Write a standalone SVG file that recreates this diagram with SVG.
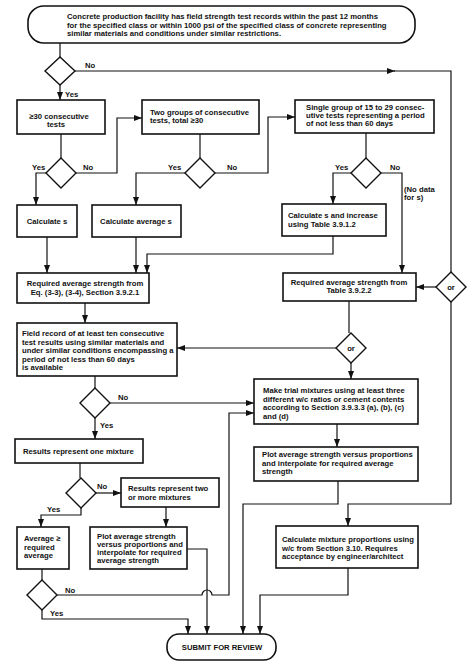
<svg xmlns="http://www.w3.org/2000/svg" width="474" height="666" viewBox="0 0 474 666">
<style>
.b{fill:#fff;stroke:#111;stroke-width:1.6}
.d{fill:#fff;stroke:#111;stroke-width:1.4}
.c{fill:none;stroke:#111;stroke-width:1.2}
text{font-family:"Liberation Sans",Arial,sans-serif;font-size:7.7px;font-weight:bold;fill:#111}
.m{text-anchor:middle}
</style>
<defs>
<marker id="a" markerWidth="8" markerHeight="6" refX="8" refY="3" orient="auto" markerUnits="userSpaceOnUse"><path d="M0,0 L8,3 L0,6 z" fill="#111"/></marker>
</defs>
<rect width="474" height="666" fill="#fff"/>
<g id="connectors">
<path class="c" d="M60,43 V57"/>
<path class="c" d="M75,71 H395" marker-end="url(#a)"/>
<path class="c" d="M394,71 H451 V272"/>
<path class="c" d="M60,85 V100" marker-end="url(#a)"/>
<path class="c" d="M61,134 V158"/>
<path class="c" d="M46,173 H36 V205" marker-end="url(#a)"/>
<path class="c" d="M76,173 H117 V118 H142" marker-end="url(#a)"/>
<path class="c" d="M200,134 V158"/>
<path class="c" d="M185,173 H136 V205" marker-end="url(#a)"/>
<path class="c" d="M215,173 H268 V117 H295" marker-end="url(#a)"/>
<path class="c" d="M366,133 V158"/>
<path class="c" d="M351,173 H333 V204" marker-end="url(#a)"/>
<path class="c" d="M381,173 H402 V273" marker-end="url(#a)"/>
<path class="c" d="M47,237 V273" marker-end="url(#a)"/>
<path class="c" d="M136,237 V273" marker-end="url(#a)"/>
<path class="c" d="M333,236 V254 H147 V273" marker-end="url(#a)"/>
<path class="c" d="M85,303 V323" marker-end="url(#a)"/>
<path class="c" d="M349,301 V333"/>
<path class="c" d="M336,348 H177" marker-end="url(#a)"/>
<path class="c" d="M351,363 V379" marker-end="url(#a)"/>
<path class="c" d="M436,287 H416" marker-end="url(#a)"/>
<path class="c" d="M451,302 V504 H348 V526" marker-end="url(#a)"/>
<path class="c" d="M95,376 V388"/>
<path class="c" d="M110,403 H254" marker-end="url(#a)"/>
<path class="c" d="M95,418 V439" marker-end="url(#a)"/>
<path class="c" d="M80,463 V478"/>
<path class="c" d="M96,493 H121" marker-end="url(#a)"/>
<path class="c" d="M81,508 V515 H41 V527" marker-end="url(#a)"/>
<path class="c" d="M166,507 V527" marker-end="url(#a)"/>
<path class="c" d="M337,424 V447" marker-end="url(#a)"/>
<path class="c" d="M338,481 V504 H243 V634" marker-end="url(#a)"/>
<path class="c" d="M348,568 V595 H260 V634" marker-end="url(#a)"/>
<path class="c" d="M42,569 V580"/>
<path class="c" d="M57,595 H202 A5,5 0 0 1 212,595 H229 V413 H254" marker-end="url(#a)"/>
<path class="c" d="M42,610 V619 H188 V634" marker-end="url(#a)"/>
<path class="c" d="M187,549 H207 V634" marker-end="url(#a)"/>
</g>
<g id="labels">
<text x="85" y="68">No</text>
<text x="65" y="97">Yes</text>
<text x="32" y="170">Yes</text>
<text x="83" y="170">No</text>
<text x="168" y="170">Yes</text>
<text x="227" y="170">No</text>
<text x="335" y="170">Yes</text>
<text x="390" y="170">No</text>
<text x="404" y="192">(No data</text>
<text x="404" y="200">for s)</text>
<text x="118" y="400">No</text>
<text x="100" y="428">Yes</text>
<text x="97" y="489">No</text>
<text x="47" y="512">Yes</text>
<text x="65" y="593">No</text>
<text x="50" y="616">Yes</text>
</g>
<g id="start">
<rect class="b" x="28" y="6" width="387" height="37" rx="16" ry="16"/>
<text x="67" y="19">Concrete production facility has field strength test records within the past 12 months</text>
<text x="67" y="27.5">for the specified class or within 1000 psi of the specified class of concrete representing</text>
<text x="67" y="36">similar materials and conditions under similar restrictions.</text>
</g>
<g id="dec1"><path class="d" d="M60,57 L75,71 L60,85 L45,71 z"/></g>
<g id="consec30">
<rect class="b" x="17" y="100" width="88" height="34"/>
<text class="m" x="59" y="119">≥30 consecutive</text>
<text class="m" x="56" y="127">tests</text>
</g>
<g id="twogroups">
<rect class="b" x="142" y="100" width="117" height="34"/>
<text x="150" y="115">Two groups of consecutive</text>
<text x="150" y="123">tests, total ≥30</text>
</g>
<g id="singlegroup">
<rect class="b" x="295" y="100" width="139" height="33"/>
<text x="306" y="110">Single group of 15 to 29 consec-</text>
<text x="306" y="118">utive tests representing a period</text>
<text x="306" y="126">of not less than 60 days</text>
</g>
<g id="dec2"><path class="d" d="M61,158 L76,173 L61,188 L46,173 z"/></g>
<g id="dec3"><path class="d" d="M200,158 L215,173 L200,188 L185,173 z"/></g>
<g id="dec4"><path class="d" d="M366,158 L381,173 L366,188 L351,173 z"/></g>
<g id="calcs">
<rect class="b" x="17" y="205" width="60" height="32"/>
<text class="m" x="47" y="224">Calculate s</text>
</g>
<g id="calcavgs">
<rect class="b" x="92" y="205" width="89" height="32"/>
<text class="m" x="136" y="224">Calculate average s</text>
</g>
<g id="calcsinc">
<rect class="b" x="282" y="204" width="104" height="32"/>
<text x="288" y="218">Calculate s and increase</text>
<text x="288" y="227">using Table 3.9.1.2</text>
</g>
<g id="reqeq">
<rect class="b" x="17" y="273" width="132" height="30"/>
<text class="m" x="85" y="286">Required average strength from</text>
<text class="m" x="85" y="295">Eq. (3-3), (3-4), Section 3.9.2.1</text>
</g>
<g id="reqtable">
<rect class="b" x="283" y="273" width="133" height="28"/>
<text class="m" x="349" y="285">Required average strength from</text>
<text class="m" x="349" y="293">Table 3.9.2.2</text>
</g>
<g id="or1"><path class="d" d="M451,272 L466,287 L451,302 L436,287 z"/><text class="m" x="451" y="290">or</text></g>
<g id="fieldrec">
<rect class="b" x="17" y="323" width="160" height="53"/>
<text x="22" y="336">Field record of at least ten consecutive</text>
<text x="22" y="344.5">test results using similar materials and</text>
<text x="22" y="353">under similar conditions encompassing a</text>
<text x="22" y="361.5">period of not less than 60 days</text>
<text x="22" y="370">is available</text>
</g>
<g id="or2"><path class="d" d="M351,333 L366,348 L351,363 L336,348 z"/><text class="m" x="351" y="351">or</text></g>
<g id="dec5"><path class="d" d="M95,388 L110,403 L95,418 L80,403 z"/></g>
<g id="trial">
<rect class="b" x="254" y="379" width="164" height="45"/>
<text x="263" y="393">Make trial mixtures using at least three</text>
<text x="263" y="401.5">different w/c ratios or cement contents</text>
<text x="263" y="410">according to Section 3.9.3.3 (a), (b), (c)</text>
<text x="263" y="418.5">and (d)</text>
</g>
<g id="oneMix">
<rect class="b" x="15" y="439" width="128" height="24"/>
<text x="23" y="454">Results represent one mixture</text>
</g>
<g id="plotright">
<rect class="b" x="254" y="447" width="164" height="34"/>
<text x="262" y="457">Plot average strength versus proportions</text>
<text x="262" y="465.5">and interpolate for required average</text>
<text x="262" y="474">strength</text>
</g>
<g id="dec6"><path class="d" d="M81,478 L96,493 L81,508 L66,493 z"/></g>
<g id="twoMix">
<rect class="b" x="121" y="478" width="98" height="29"/>
<text x="128" y="491">Results represent two</text>
<text x="128" y="500">or more mixtures</text>
</g>
<g id="calcmix">
<rect class="b" x="276" y="526" width="142" height="42"/>
<text x="282" y="542">Calculate mixture proportions using</text>
<text x="282" y="550.5">w/c from Section 3.10. Requires</text>
<text x="282" y="559">acceptance by engineer/architect</text>
</g>
<g id="average">
<rect class="b" x="17" y="527" width="52" height="42"/>
<text x="24" y="541">Average ≥</text>
<text x="24" y="549.5">required</text>
<text x="24" y="558">average</text>
</g>
<g id="plotleft">
<rect class="b" x="90" y="527" width="97" height="42"/>
<text x="97" y="539">Plot average strength</text>
<text x="97" y="547">versus proportions and</text>
<text x="97" y="555">interpolate for required</text>
<text x="97" y="563">average strength</text>
</g>
<g id="dec7"><path class="d" d="M42,580 L57,595 L42,610 L27,595 z"/></g>
<g id="submit">
<rect class="b" x="167" y="634" width="109" height="26" rx="12" ry="12"/>
<text class="m" x="222" y="650">SUBMIT FOR REVIEW</text>
</g>
</svg>
